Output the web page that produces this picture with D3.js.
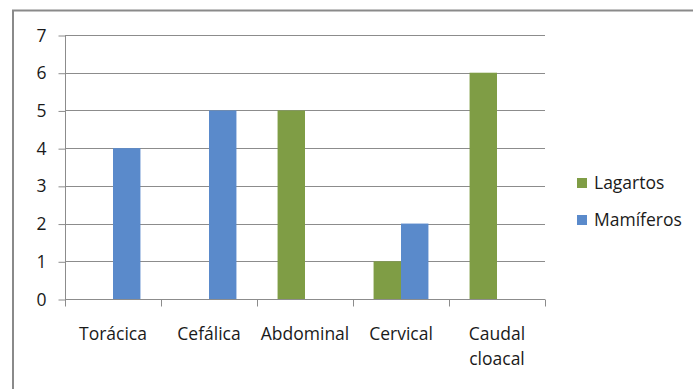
<!DOCTYPE html>
<html>
<head>
<meta charset="utf-8">
<script src="https://cdn.jsdelivr.net/npm/d3@7"></script>
<style>
  html, body { margin: 0; padding: 0; background: #fff; }
  svg { display: block; }
  text { font-family: "Open Sans", "Liberation Sans", sans-serif; fill: #1a1a1a; }
</style>
</head>
<body>
<svg id="chart" width="693" height="389"></svg>
<script>
// Chart data
const categories = ["Torácica", "Cefálica", "Abdominal", "Cervical", "Caudal cloacal"];
const seriesNames = ["Lagartos", "Mamíferos"];
const lagartos = [0, 0, 5, 1, 6];
const mamiferos = [4, 5, 0, 2, 0];
const yTicks = [0, 1, 2, 3, 4, 5, 6, 7];
const colors = ["#7f9d45", "#5a8acb"];

const svg = d3.select("#chart");
const W = 693, H = 389;
const FS = 17.5;

// chart frame (top and left edges)
svg.append("path")
  .attr("d", `M13,${H} L13,10.5 L${W},10.5`)
  .attr("fill", "none").attr("stroke", "#8a8a8a").attr("stroke-width", 2);

const plot = { left: 65, right: 545, top: 35, bottom: 299 };

const x = d3.scaleBand().domain(categories).range([plot.left, plot.right]).paddingInner(0).paddingOuter(0);
// two bars per category, a gap of 1.5 bar widths shared on both sides
const x1 = d3.scaleBand().domain(seriesNames).range([0, x.bandwidth()]).paddingInner(0).paddingOuter(0.75);
const y = d3.scaleLinear().domain([0, 7]).range([plot.bottom, plot.top]);

// gridlines
svg.append("g").selectAll("line").data(yTicks.filter(d => d > 0)).join("line")
  .attr("x1", plot.left).attr("x2", plot.right)
  .attr("y1", d => Math.round(y(d)) + 0.5).attr("y2", d => Math.round(y(d)) + 0.5)
  .attr("stroke", "#8c8c8c").attr("stroke-width", 1);

// bars
const data = categories.map((c, i) => ({ c, vals: [lagartos[i], mamiferos[i]] }));
const g = svg.append("g");
data.forEach(d => {
  d.vals.forEach((v, s) => {
    if (v <= 0) return;
    g.append("rect")
      .attr("x", x(d.c) + x1(seriesNames[s]))
      .attr("width", x1.bandwidth())
      .attr("y", y(v))
      .attr("height", y(0) - y(v))
      .attr("fill", colors[s]);
  });
});

// y axis
const yAxis = d3.axisLeft(y).tickValues(yTicks).tickSize(7).tickPadding(12).tickFormat(d3.format("d"));
const ya = svg.append("g").attr("transform", `translate(${plot.left + 0.5},0.5)`).call(yAxis);
ya.select(".domain").attr("stroke", "#8c8c8c").attr("d", `M0,${plot.top}V${plot.bottom}`);
ya.selectAll(".tick line").attr("stroke", "#8c8c8c");
ya.selectAll(".tick text").attr("font-size", FS).attr("font-family", "Open Sans").attr("fill", "#1a1a1a");

// x axis
const xa = svg.append("g").attr("transform", `translate(0,${plot.bottom + 0.5})`);
xa.append("line").attr("x1", plot.left).attr("x2", plot.right).attr("stroke", "#8c8c8c");
const xEdges = categories.map(c => x(c)).concat([plot.right]);
xa.selectAll(".xt").data(xEdges).join("line")
  .attr("x1", d => Math.round(d) + 0.5).attr("x2", d => Math.round(d) + 0.5)
  .attr("y1", 0).attr("y2", 7).attr("stroke", "#8c8c8c");

// category labels
categories.forEach(c => {
  const words = c.split(" ");
  const t = svg.append("text")
    .attr("x", x(c) + x.bandwidth() / 2)
    .attr("y", 340)
    .attr("text-anchor", "middle")
    .attr("font-size", FS);
  words.forEach((w, i) => {
    t.append("tspan").attr("x", x(c) + x.bandwidth() / 2).attr("dy", i === 0 ? 0 : 25).text(w);
  });
});

// legend
const legend = svg.append("g");
seriesNames.forEach((s, i) => {
  const ly = 178 + i * 37;
  legend.append("rect").attr("x", 577).attr("y", ly).attr("width", 10).attr("height", 10).attr("fill", colors[i]);
  legend.append("text").attr("x", 594).attr("y", ly + 11).attr("font-size", FS).text(s);
});
</script>
</body>
</html>
